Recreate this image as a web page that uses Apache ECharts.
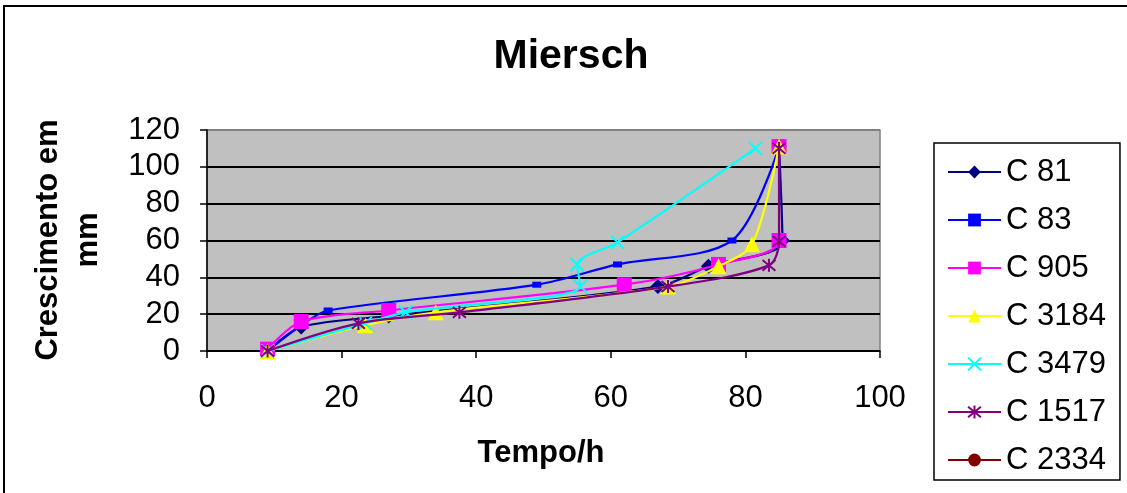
<!DOCTYPE html>
<html>
<head>
<meta charset="utf-8">
<script src="https://cdn.jsdelivr.net/npm/echarts@6/dist/echarts.min.js"></script>
<style>
  html, body { margin: 0; padding: 0; background: #fff; }
  #chart { width: 1127px; height: 493px; }
</style>
</head>
<body>
<div id="chart"></div>
<script>
// series names (legend order)
var seriesNames = ['C 81', 'C 83', 'C 905', 'C 3184', 'C 3479', 'C 1517', 'C 2334'];

// [tempo (h), crescimento (mm)]
var c81 = [[9, 0], [14, 13], [27, 19], [67, 35], [74.5, 46], [85.5, 60], [85, 111]];
var c83 = [[9, 0], [14, 14], [18, 22], [49, 36], [61, 47], [78, 60], [85, 111]];
var c905 = [[9, 1], [14, 16], [27, 22], [62, 36], [76, 47], [85, 60], [85, 111]];
var c3184 = [[9, 0], [23.5, 14], [34, 21], [68.5, 35], [76, 46], [81, 58], [85, 111]];
var c3479 = [[9, 0], [23.5, 15], [29.5, 21], [55.5, 35], [55, 47], [61, 59], [81.5, 110]];
var c1517 = [[9, 0], [22.5, 15], [37.5, 21], [68.5, 35], [83.5, 46.5], [85, 59.5], [85, 110]];
var c2334 = [];

var xTicks = [0, 20, 40, 60, 80, 100];
var yTicks = [0, 20, 40, 60, 80, 100, 120];

var colors = ['#000080', '#0000FF', '#FF00FF', '#FFFF00', '#00FFFF', '#800080', '#800000'];
var seriesData = [c81, c83, c905, c3184, c3479, c1517, c2334];

var symbols = [
  'diamond',
  'rect',
  'rect',
  'triangle',
  'path://M0,0L10,10M10,0L0,10',
  'path://M0,0L10,10M10,0L0,10M5,-1L5,11',
  'circle'
];
var symbolSizes = [15, [9, 6], 15, 16, 13, 13, 13];

var chart = echarts.init(document.getElementById('chart'));

var series = seriesNames.map(function (name, i) {
  var strokeOnly = (i === 4 || i === 5);
  return {
    name: name,
    type: 'line',
    data: seriesData[i],
    smooth: 0.3,
    symbol: symbols[i],
    symbolSize: symbolSizes[i],
    showAllSymbol: true,
    color: colors[i],
    lineStyle: { color: colors[i], width: 2.2 },
    itemStyle: strokeOnly
      ? { color: 'none', borderColor: colors[i], borderWidth: 2 }
      : { color: colors[i], borderWidth: 0 },
    emphasis: { disabled: true },
    animation: false,
    z: 2 + i
  };
});

// gridlines black, top edge of the plot stays grey
var splitColors = ['#000', '#000', '#000', '#000', '#000', '#000', '#808080'];

var option = {
  animation: false,
  backgroundColor: '#fff',
  legend: {
    orient: 'vertical',
    left: 934,
    top: 143,
    padding: [13, 14, 4, 13],
    itemWidth: 53,
    itemHeight: 16,
    itemGap: 16,
    borderColor: '#000',
    borderWidth: 1.5,
    backgroundColor: '#fff',
    textStyle: { fontFamily: 'Liberation Sans', fontSize: 31, lineHeight: 32, color: '#000' },
    data: seriesNames
  },
  grid: {
    left: 207,
    top: 130,
    right: 247,
    bottom: 142,
    show: true,
    backgroundColor: '#C0C0C0',
    borderColor: '#808080',
    borderWidth: 1.5
  },
  xAxis: {
    type: 'value',
    min: xTicks[0],
    max: xTicks[xTicks.length - 1],
    interval: 20,
    axisLine: { show: true, lineStyle: { color: '#000', width: 1.5 } },
    axisTick: { show: true, inside: false, length: 7, lineStyle: { color: '#000', width: 1.5 } },
    axisLabel: { fontFamily: 'Liberation Sans', fontSize: 31, color: '#000', margin: 32 },
    splitLine: { show: false }
  },
  yAxis: {
    type: 'value',
    min: yTicks[0],
    max: yTicks[yTicks.length - 1],
    interval: 20,
    axisLine: { show: true, lineStyle: { color: '#000', width: 1.5 } },
    axisTick: { show: true, inside: false, length: 7, lineStyle: { color: '#000', width: 1.5 } },
    axisLabel: { fontFamily: 'Liberation Sans', fontSize: 31, color: '#000', margin: 27 },
    splitLine: { show: true, lineStyle: { color: splitColors, width: 2 } }
  },
  graphic: [
    {
      type: 'rect',
      shape: { x: 4, y: 6, width: 1140, height: 500 },
      style: { fill: 'none', stroke: '#000', lineWidth: 2 },
      silent: true,
      z: -10
    },
    {
      type: 'text',
      x: 571,
      y: 57,
      style: {
        text: 'Miersch',
        fontFamily: 'Liberation Sans',
        fontWeight: 'bold',
        fontSize: 41,
        fill: '#000',
        align: 'center',
        verticalAlign: 'middle'
      }
    },
    {
      type: 'text',
      x: 68,
      y: 240,
      rotation: Math.PI / 2,
      style: {
        text: 'Crescimento em\nmm',
        fontFamily: 'Liberation Sans',
        fontWeight: 'bold',
        fontSize: 31,
        lineHeight: 40,
        fill: '#000',
        align: 'center',
        verticalAlign: 'middle'
      }
    },
    {
      type: 'text',
      x: 541,
      y: 453,
      style: {
        text: 'Tempo/h',
        fontFamily: 'Liberation Sans',
        fontWeight: 'bold',
        fontSize: 31,
        fill: '#000',
        align: 'center',
        verticalAlign: 'middle'
      }
    }
  ],
  series: series
};

chart.setOption(option);
</script>
</body>
</html>
